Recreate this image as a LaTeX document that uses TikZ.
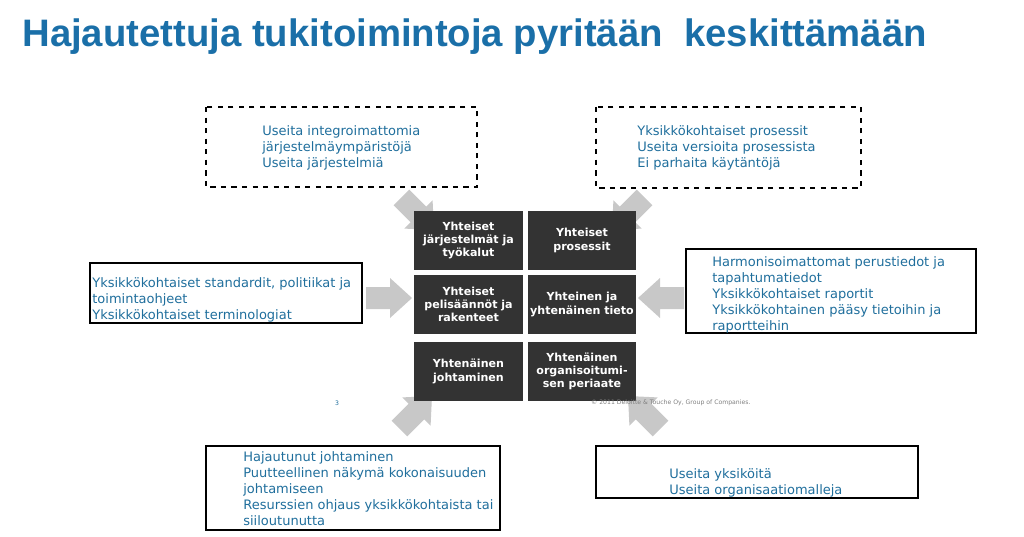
\documentclass[tikz,border=0pt]{standalone}
\usepackage{fontspec}
\setmainfont{DejaVu Sans}
\newfontfamily\titlefont{Liberation Sans}
\usetikzlibrary{positioning}
\definecolor{txtblue}{HTML}{1F6E9C}
\definecolor{ttlblue}{HTML}{1A6FA8}
\definecolor{cell}{HTML}{333333}
\definecolor{arrgray}{HTML}{C8C8C8}
\newcommand{\garrow}[3]{% tip x, tip y, angle
  \fill[arrgray,shift={(#1,#2)},rotate=#3] (0,0) -- (-22,20) -- (-22,11) -- (-46,11) -- (-46,-11) -- (-22,-11) -- (-22,-20) -- cycle;}
\begin{document}
\begin{tikzpicture}[x=0.02cm,y=-0.02cm]
        \tikzstyle{dbox} = [draw=black, thick, dashed]
        \tikzstyle{sbox} = [draw=black, thick]
        \tikzstyle{txt} = [anchor=north west, align=left, text=txtblue, font=\fontsize{7.4}{9.1}\selectfont, inner sep=0pt]
        \tikzstyle{cellbox} = [fill=cell, text=white, minimum width=2.18cm, minimum height=1.2cm, align=center, font=\bfseries\fontsize{6.3}{7.6}\selectfont, inner sep=1pt]
        \useasboundingbox (0,0) rectangle (1024,537);
        \node[anchor=west, text=ttlblue, font=\titlefont\bfseries\fontsize{21.8}{24}\selectfont, inner sep=0pt] (title) at (22,37) {Hajautettuja tukitoimintoja pyritään\ \ keskittämään};
        % outer boxes
        \draw[dbox] (206,107) rectangle (477,187);
        \draw[dbox] (596,107) rectangle (861,188);
        \draw[sbox] (686,249) rectangle (976,333);
        \draw[sbox] (90,263) rectangle (362,323);
        \draw[sbox] (206,446) rectangle (500,530);
        \draw[sbox] (596,446) rectangle (918,498);
        \node[txt] (systems) at (262,125) {Useita integroimattomia\\järjestelmäympäristöjä\\Useita järjestelmiä};
        \node[txt] (processes) at (637,125) {Yksikkökohtaiset prosessit\\Useita versioita prosessista\\Ei parhaita käytäntöjä};
        \node[txt] (data) at (712,256) {Harmonisoimattomat perustiedot ja\\tapahtumatiedot\\Yksikkökohtaiset raportit\\Yksikkökohtainen pääsy tietoihin ja\\raportteihin};
        \node[txt] (rules) at (92,277) {Yksikkökohtaiset standardit, politiikat ja\\toimintaohjeet\\Yksikkökohtaiset terminologiat};
        \node[txt] (mgmt) at (243,451) {Hajautunut johtaminen\\Puutteellinen näkymä kokonaisuuden\\johtamiseen\\Resurssien ohjaus yksikkökohtaista tai\\siiloutunutta};
        \node[txt] (org) at (669,468) {Useita yksiköitä\\Useita organisaatiomalleja};
        % block arrows
        \garrow{412}{298}{0}
        \garrow{638}{298}{180}
        \garrow{434}{230}{-45}
        \garrow{612}{230}{-135}
        \garrow{432}{396}{45}
        \garrow{628}{396}{135}
        % grid
        \node[cellbox] (c1) at (468.5,240.5) {Yhteiset\\järjestelmät ja\\työkalut};
        \node[cellbox] (c2) at (582,240.5) {Yhteiset\\prosessit};
        \node[cellbox] (c3) at (468.5,304.5) {Yhteiset\\pelisäännöt ja\\rakenteet};
        \node[cellbox] (c4) at (582,304.5) {Yhteinen ja\\yhtenäinen tieto};
        \node[cellbox] (c5) at (468.5,371.5) {Yhtenäinen\\johtaminen};
        \node[cellbox] (c6) at (582,371.5) {Yhtenäinen\\organisoitumi-\\sen periaate};
        \node[font=\fontsize{3.5}{4}\selectfont, text=txtblue] (page) at (337,403) {3};
        \node[font=\fontsize{3.5}{4}\selectfont, text=gray, anchor=west] (copy) at (585,403) {© 2011 Deloitte \& Touche Oy, Group of Companies.};
\end{tikzpicture}
\end{document}
